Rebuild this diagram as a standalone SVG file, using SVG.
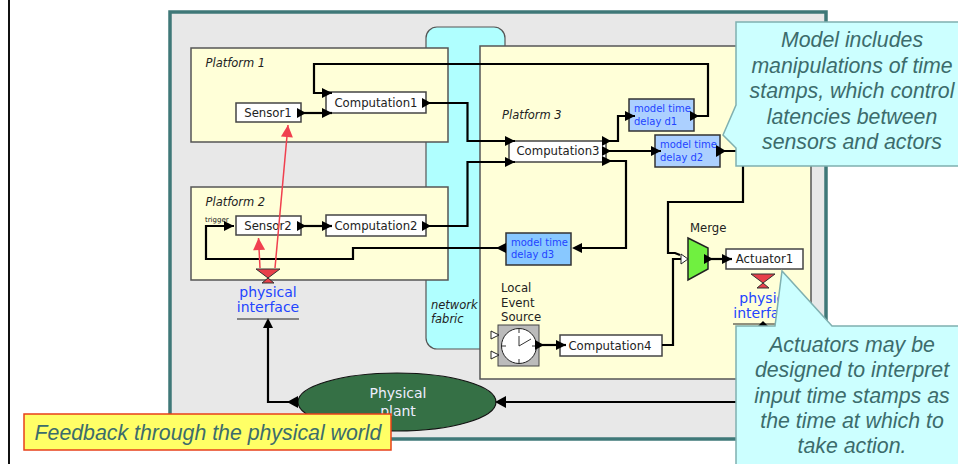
<svg xmlns="http://www.w3.org/2000/svg" width="958" height="464" viewBox="0 0 958 464">
<style>
.plat{fill:#ffffd8;stroke:#555;stroke-width:1.5}
.box{fill:#fff;stroke:#444;stroke-width:1.5}
.dly{fill:#acd0ff;stroke:#333;stroke-width:1.5}
.t{font-family:"DejaVu Sans",sans-serif;font-size:11.7px;fill:#222}
.c{text-anchor:middle}
.pl{font-family:"DejaVu Sans",sans-serif;font-size:11.5px;font-style:italic;fill:#222}
.bl{font-family:"DejaVu Sans",sans-serif;font-size:10px;fill:#2244ff}
.pi{font-family:"DejaVu Sans",sans-serif;font-size:14px;fill:#2244ff;text-anchor:middle}
.w{fill:none;stroke:#000;stroke-width:2.2;marker-end:url(#a);marker-start:url(#o)}
.w2{fill:none;stroke:#000;stroke-width:2.2}
.r{fill:none;stroke:#f0404f;stroke-width:1.5}
.ct{font-family:"Liberation Sans",Arial,sans-serif;font-style:italic;font-size:21.3px;fill:#3c6c6c;text-anchor:middle}
.call{fill:#ccffff;stroke:#7fb0b0;stroke-width:1.5}
.tie{fill:#e8404a;stroke:#333;stroke-width:1}
</style>
<defs>
<marker id="a" markerUnits="userSpaceOnUse" markerWidth="14" markerHeight="14" refX="10" refY="6" orient="auto" overflow="visible"><path d="M0,1 L10,6 L0,11z" fill="#000"/></marker>
<marker id="o" markerUnits="userSpaceOnUse" markerWidth="10" markerHeight="12" refX="4" refY="6" orient="auto" overflow="visible"><path d="M0,1 L9,6 L0,11z" fill="#000"/></marker>
<marker id="ra" markerUnits="userSpaceOnUse" markerWidth="14" markerHeight="14" refX="12" refY="6" orient="auto" overflow="visible"><path d="M0,0 L12,6 L0,12z" fill="#f0404f"/></marker>
</defs>
<rect width="958" height="464" fill="#fff"/>
<line x1="9" y1="0" x2="9" y2="464" stroke="#111" stroke-width="2"/>
<rect id="frame" x="170" y="12" width="656" height="427" fill="#e8e8e8" stroke="#3f7878" stroke-width="3.5"/>
<g id="fabric"><rect x="426" y="27" width="79" height="322" rx="11" fill="#b0ffff" stroke="#555" stroke-width="1.2"/>
<text class="pl" x="431" y="309">network</text><text class="pl" x="431" y="323">fabric</text></g>
<g id="platform3"><rect class="plat" x="480" y="46" width="331" height="333"/><text class="pl" x="502" y="119">Platform 3</text></g>
<g id="platform1"><rect class="plat" x="191" y="48" width="257" height="94"/><text class="pl" x="205.500" y="67">Platform 1</text></g>
<g id="platform2"><rect class="plat" x="191" y="187" width="257" height="93"/><text class="pl" x="205.500" y="206">Platform 2</text></g>
<g id="plant"><ellipse cx="397" cy="402" rx="99" ry="29" fill="#357045" stroke="#111" stroke-width="1.2"/>
<text class="t c" x="398" y="398" style="fill:#eef;font-size:14px">Physical</text><text class="t c" x="398" y="416" style="fill:#eef;font-size:14px">plant</text></g>
<g id="sensor1"><rect class="box" x="236" y="103" width="65" height="19"/><text class="t c" x="268" y="117">Sensor1</text></g>
<g id="computation1"><rect class="box" x="326" y="92" width="100" height="21"/><text class="t c" x="376" y="106.500">Computation1</text></g>
<g id="sensor2"><rect class="box" x="236" y="216" width="65" height="19"/><text class="t c" x="268" y="230">Sensor2</text><text class="t" x="205" y="222" style="font-size:7px">trigger</text></g>
<g id="computation2"><rect class="box" x="326" y="215" width="100" height="21"/><text class="t c" x="376" y="229.500">Computation2</text></g>
<g id="computation3"><rect class="box" x="509" y="141" width="97" height="21"/><text class="t c" x="558" y="155">Computation3</text></g>
<g id="computation4"><rect class="box" x="560" y="335" width="102" height="21"/><text class="t c" x="610" y="349.500">Computation4</text></g>
<g id="d1"><rect class="dly" x="629" y="99" width="65" height="32"/><text class="bl" x="634" y="112">model time</text><text class="bl" x="634" y="125">delay d1</text></g>
<g id="d2"><rect class="dly" x="655" y="135" width="65" height="32"/><text class="bl" x="660" y="148">model time</text><text class="bl" x="660" y="161">delay d2</text></g>
<g id="d3"><rect class="dly" x="506" y="233" width="65" height="32" style="fill:#88c8ff"/><text class="bl" x="511" y="246">model time</text><text class="bl" x="511" y="258">delay d3</text></g>
<g id="merge"><path d="M688,238 L708,248 V269 L688,280z" fill="#70f040" stroke="#222" stroke-width="1.5"/>
<text class="t" x="690" y="232">Merge</text></g>
<g id="actuator1"><rect class="box" x="726" y="249" width="77" height="20"/><text class="t c" x="764.500" y="263">Actuator1</text></g>
<g id="clock"><rect x="498" y="325" width="41" height="41" fill="#bbb" stroke="#444"/><circle cx="519" cy="346" r="17.500" fill="#fff" stroke="#222"/>
<path d="M519,329 v4 M519,359 v4 M502,346 h4 M532,346 h4 M519,346 V336 M519,346 L531,339" stroke="#333" fill="none"/>
<path d="M491,331 L499,335 L491,339z M491,351 L499,355 L491,359z" fill="#fff" stroke="#222"/>
<text class="t" x="501" y="292">Local</text><text class="t" x="501" y="306.500">Event</text><text class="t" x="501" y="321">Source</text></g>
<g id="connectors">
<path class="w" d="M694,116 H708 V64 H314 V93 H332"/>
<path class="w" d="M301,113 H332"/>
<path class="w" d="M426,103 H467.500 V141 H515"/>
<path class="w" d="M426,226 H467.500 V162 H515"/>
<path class="w" d="M606,141 H618 V116 H635"/>
<path class="w" d="M606,151 H661"/>
<path class="w2" d="M720,151 H743 V202 H668 V253 H675 L680,255"/>
<path class="w2" d="M662,345 H673 V259 H682"/>
<path class="w2" d="M606,161 H626 V248 H576"/>
<path d="M572,248 L582,243 L582,253z M606,161 m-4,-5 l10,5 l-10,5z" fill="#000"/>
<path class="w2" d="M506,248 H353 V259 H206 V226 H234" style="marker-end:url(#a)"/>
<path d="M506,243 L496,248 L506,253z" fill="#000"/>
<path class="w" d="M301,226 H332"/>
<path class="w" d="M708,259 H732"/>
<path class="w" d="M539,345 H566"/>
<path class="w2" d="M736,402 H505"/>
<path d="M495,402 L506,396 L506,408z" fill="#000"/>
<path class="w2" d="M298,402 H268 V325"/>
<path d="M298,396 L287,402 L298,408z" fill="#000"/>
<path d="M268,318 L263,328 L273,328z" fill="#000"/>
<path d="M716,145 L726,151 L716,157z" fill="#000"/>
<path d="M681,254 L688,259 L681,264z" fill="#fff" stroke="#222"/>
</g>
<g id="iface1"><path class="tie" d="M256,269 H280 L268,278z M268,278 L274,283 H262z"/><text class="pi" x="268" y="297">physical</text><text class="pi" x="268" y="312">interface</text><line x1="237" y1="319" x2="299" y2="319" stroke="#222"/></g>
<g id="iface2"><path class="tie" d="M751,274 H775 L763,283z M763,283 L769,288 H757z"/><text class="pi" x="768" y="303">physical</text><text class="pi" x="764.500" y="318">interface</text><line x1="733" y1="324" x2="795" y2="324" stroke="#222"/><path d="M763,321 L758,326 H768z" fill="#000"/></g>
<g id="redlinks"><line class="r" x1="260" y1="268" x2="258.500" y2="238" style="marker-end:url(#ra)"/><line class="r" x1="275" y1="268" x2="288" y2="125" style="marker-end:url(#ra)"/></g>
<g id="callout1"><path class="call" d="M736,22 H960 V166 H736 V148 L723,135 L736,105z"/>
<text class="ct" x="852" y="47">Model includes</text><text class="ct" x="852" y="73">manipulations of time</text><text class="ct" x="852" y="98">stamps, which control</text><text class="ct" x="852" y="124">latencies between</text><text class="ct" x="852" y="149">sensors and actors</text></g>
<g id="callout2"><path class="call" d="M736,466 V326 H775 L782,271 L832,326 H960 V466"/>
<text class="ct" x="852" y="352">Actuators may be</text><text class="ct" x="852" y="377">designed to interpret</text><text class="ct" x="852" y="403">input time stamps as</text><text class="ct" x="852" y="428">the time at which to</text><text class="ct" x="852" y="453">take action.</text></g>
<g id="callout3"><rect x="24" y="414" width="367" height="36" fill="#ffff66" stroke="#e8401a" stroke-width="1.5"/><text class="ct" x="208" y="440">Feedback through the physical world</text></g>
</svg>
